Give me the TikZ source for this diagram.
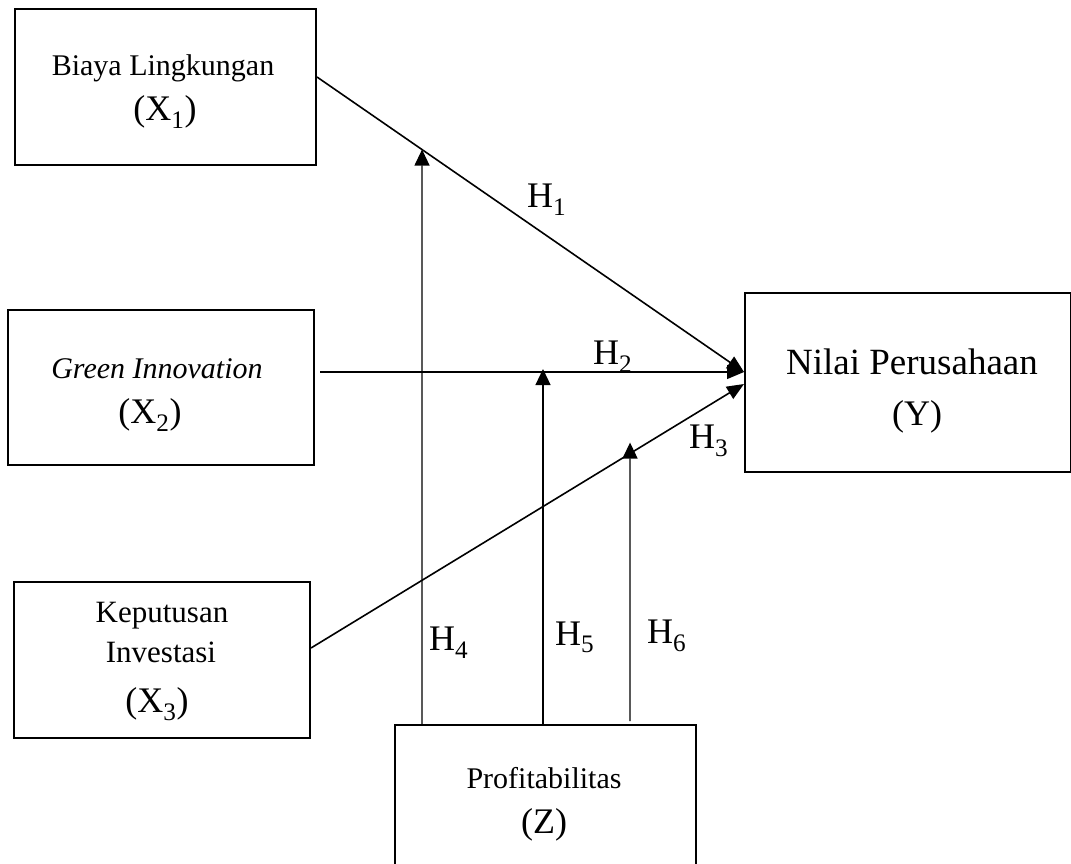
\documentclass[tikz,border=0pt]{standalone}
\usepackage{fontspec}
\setmainfont{Liberation Serif}
\usetikzlibrary{arrows.meta,calc}
\newcommand\smallfs{\fontsize{30}{36}\selectfont}
\newcommand\bigfs{\fontsize{36}{43}\selectfont}
\begin{document}
\begin{tikzpicture}[x=1pt,y=-1pt,
  varbox/.style={draw, line width=2pt, inner sep=0pt, anchor=north west},
  smalltxt/.style={inner sep=0pt, anchor=base, font=\smallfs},
  bigtxt/.style={inner sep=0pt, anchor=base, font=\bigfs},
  connarrow/.style={line width=1.6pt, -{Triangle[length=17pt,width=14pt]}},
  plainline/.style={line width=1.1pt, -{Triangle[length=17pt,width=14pt]}},
  modarrow/.style={line width=1.2pt, -{Triangle[length=16pt,width=15pt]}},
  hlab/.style={inner sep=0pt, anchor=base west, font=\bigfs}]
\useasboundingbox (0,0) rectangle (1071,863);
\clip (0,0) rectangle (1071,863);

% boxes
\node[varbox, minimum width=301pt, minimum height=156pt] (X1) at (14,8) {};
\node[varbox, minimum width=306pt, minimum height=155pt] (X2) at (7,309) {};
\node[varbox, minimum width=296pt, minimum height=156pt] (X3) at (13,581) {};
\node[varbox, minimum width=326pt, minimum height=179pt] (Y) at (744,292) {};
\node[varbox, minimum width=301pt, minimum height=154pt] (Z) at (394,724) {};

% box texts
\node[smalltxt] (X1a) at (163,75) {Biaya Lingkungan};
\node[bigtxt]   (X1b) at (165,120) {(X\textsubscript{1})};
\node[smalltxt] (X2a) at (157,378) {\itshape Green Innovation};
\node[bigtxt]   (X2b) at (150,423) {(X\textsubscript{2})};
\node[smalltxt, font=\fontsize{31}{36}\selectfont] (X3a) at (162,622) {Keputusan};
\node[smalltxt, font=\fontsize{31}{36}\selectfont] (X3b) at (161,662) {Investasi};
\node[bigtxt]   (X3c) at (157,712) {(X\textsubscript{3})};
\node[bigtxt, font=\fontsize{37}{44}\selectfont] (Ya) at (912,374) {Nilai Perusahaan};
\node[bigtxt]   (Yb) at (917,425) {(Y)};
\node[smalltxt] (Za) at (544,788) {Profitabilitas};
\node[bigtxt]   (Zb) at (544,833) {(Z)};

% connector end points
\coordinate (s1) at ([yshift=10pt]X1.east);
\coordinate (t1) at ([yshift=10.5pt]Y.west);
\coordinate (s2) at ([xshift=5pt,yshift=15.5pt]X2.east);
\coordinate (s3) at ([yshift=12pt]X3.east);
\coordinate (t3) at ([yshift=-1.5pt]Y.west);

\draw[connarrow] (s1) -- (t1);
\draw[plainline] (s2) -- (t1);
\draw[connarrow] (s3) -- (t3);

% moderator lines
\coordinate (z1) at ([xshift=28pt]Z.north west);
\coordinate (z2) at ([xshift=149pt]Z.north west);
\coordinate (z3) at ([xshift=236pt]Z.north west);
\coordinate (z1t) at (z1 |- X1.north);
\coordinate (z3t) at (z3 |- X1.north);
\coordinate (m1) at (intersection of s1--t1 and z1--z1t);
\coordinate (m2) at ($(z2 |- s2)+(0,-3)$);
\coordinate (m3) at ($(intersection of s3--t3 and z3--z3t)+(0,-11)$);

\draw[modarrow] (z1) -- (m1);
\draw[modarrow] (z2) -- (m2);
\draw[modarrow] ([yshift=3pt]z3) -- (m3);

% hypothesis labels
\node[hlab] (H1) at (527,207) {H\textsubscript{1}};
\node[hlab] (H2) at (593,364) {H\textsubscript{2}};
\node[hlab] (H3) at (689,448) {H\textsubscript{3}};
\node[hlab] (H4) at (429,650) {H\textsubscript{4}};
\node[hlab] (H5) at (555,645) {H\textsubscript{5}};
\node[hlab] (H6) at (647,643) {H\textsubscript{6}};
\end{tikzpicture}
\end{document}
